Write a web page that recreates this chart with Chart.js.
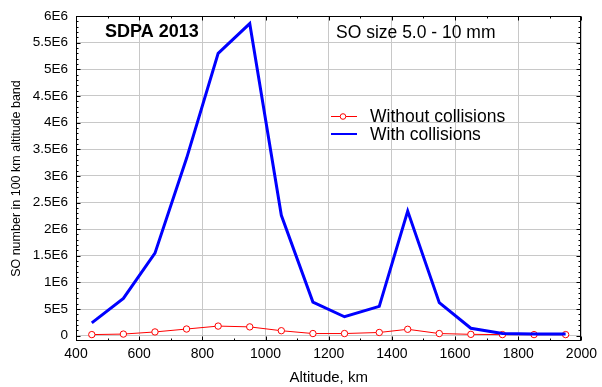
<!DOCTYPE html>
<html><head><meta charset="utf-8">
<script src="https://cdn.jsdelivr.net/npm/chart.js@4"></script>
<style>html,body{margin:0;padding:0;background:#fff}#w{width:602px;height:387px}</style>
</head><body><div id="w"><canvas id="c" width="602" height="387"></canvas></div>
<script>
const altitudes = [450,550,650,750,850,950,1050,1150,1250,1360,1450,1550,1650,1750,1850,1950];
const withoutCollisions = [0.02e6,0.03e6,0.07e6,0.125e6,0.18e6,0.165e6,0.093e6,0.04e6,0.04e6,0.06e6,0.12e6,0.04e6,0.025e6,0.02e6,0.02e6,0.02e6];
const withCollisions = [0.24e6,0.70e6,1.55e6,3.33e6,5.30e6,5.86e6,2.26e6,0.63e6,0.355e6,0.55e6,2.34e6,0.62e6,0.14e6,0.04e6,0.03e6,0.03e6];
const yTicks = [0,5e5,1e6,1.5e6,2e6,2.5e6,3e6,3.5e6,4e6,4.5e6,5e6,5.5e6,6e6];
const yTickLabels = ["0","5E5","1E6","1.5E6","2E6","2.5E6","3E6","3.5E6","4E6","4.5E6","5E6","5.5E6","6E6"];
const xTicks = [400,600,800,1000,1200,1400,1600,1800,2000];
const titleText = "SDPA 2013";
const subtitleText = "SO size 5.0 - 10 mm";
const seriesNames = ["Without collisions","With collisions"];

const FONT = "'Liberation Sans', Arial, sans-serif";
const annot = {
  id:'annot',
  afterDraw(chart){
    const ctx = chart.ctx, a = chart.chartArea;
    ctx.save();
    ctx.strokeStyle = '#000'; ctx.lineWidth = 1;
    const L = Math.round(a.left)+0.5, R = Math.round(a.right)-0.5, T = Math.round(a.top)+0.5, B = Math.round(a.bottom)-0.5;
    ctx.strokeRect(L, T, R-L, B-T);
    // minor ticks
    const ys = chart.scales.y, xs = chart.scales.x;
    for (let v = 0; v <= 6e6; v += 1e5) {
      const py = Math.round(ys.getPixelForValue(v)) + 0.5;
      const len = (v % 5e5 === 0) ? 4 : 2;
      ctx.beginPath(); ctx.moveTo(R, py); ctx.lineTo(R-len, py); ctx.stroke();
      ctx.beginPath(); ctx.moveTo(L, py); ctx.lineTo(L+len, py); ctx.stroke();
    }
    for (let v = 400; v <= 2000; v += 100) {
      const px = Math.round(xs.getPixelForValue(v)) + 0.5;
      const len = (v % 200 === 0) ? 4 : 2;
      ctx.beginPath(); ctx.moveTo(px, B); ctx.lineTo(px, B-len); ctx.stroke();
      ctx.beginPath(); ctx.moveTo(px, T); ctx.lineTo(px, T+len); ctx.stroke();
    }
    ctx.fillStyle = '#000';
    ctx.textBaseline = 'middle';
    ctx.font = "bold 18px " + FONT;
    ctx.fillText(titleText, 105, 32);
    ctx.font = "17.5px " + FONT;
    ctx.fillText(subtitleText, 336, 33);
    // legend
    ctx.lineWidth = 1; ctx.strokeStyle = '#ff0000';
    ctx.beginPath(); ctx.moveTo(331, 116.5); ctx.lineTo(357, 116.5); ctx.stroke();
    ctx.fillStyle = '#fff';
    ctx.beginPath(); ctx.arc(343, 116.5, 2.8, 0, Math.PI*2); ctx.fill(); ctx.stroke();
    ctx.strokeStyle = '#0000ff'; ctx.lineWidth = 2;
    ctx.beginPath(); ctx.moveTo(331, 134); ctx.lineTo(357, 134); ctx.stroke();
    ctx.fillStyle = '#000';
    ctx.font = "17.5px " + FONT;
    ctx.fillText(seriesNames[0], 370, 117);
    ctx.fillText(seriesNames[1], 370, 135);
    ctx.restore();
  }
};

new Chart(document.getElementById('c'), {
  type: 'line',
  data: {
    datasets: [
      { label: seriesNames[1], data: altitudes.map((x,i)=>({x, y: withCollisions[i]})),
        borderColor: '#0000ff', borderWidth: 3, pointRadius: 0, tension: 0, fill: false },
      { label: seriesNames[0], data: altitudes.map((x,i)=>({x, y: withoutCollisions[i]})),
        borderColor: '#ff0000', borderWidth: 1, pointRadius: 3.2, pointBorderWidth: 1,
        pointBackgroundColor: '#ffffff', pointBorderColor: '#ff0000', tension: 0, fill: false }
    ]
  },
  options: {
    responsive: false, animation: false,
    layout: { padding: { top: 14, right: 17, left: 0, bottom: 0 } },
    plugins: { legend: { display: false }, tooltip: { enabled: false } },
    scales: {
      x: {
        type: 'linear', min: 400, max: 2000,
        afterBuildTicks: s => { s.ticks = xTicks.map(v => ({ value: v })); },
        afterFit: s => { s.height = 46; },
        grid: { color: '#c8c8c8', drawTicks: false },
        border: { display: false },
        ticks: { color: '#000', font: { family: FONT, size: 14 }, padding: 5, maxRotation: 0, callback: v => String(v) },
        title: { display: true, text: 'Altitude, km', color: '#000', font: { family: FONT, size: 15 }, padding: { top: 0, bottom: 0 } }
      },
      y: {
        type: 'linear', min: -1e5, max: 6e6,
        afterBuildTicks: s => { s.ticks = yTicks.map(v => ({ value: v })); },
        afterFit: s => { s.width = 76; },
        grid: { color: '#c8c8c8', drawTicks: false },
        border: { display: false },
        ticks: { color: '#000', font: { family: FONT, size: 13.5 }, padding: 8,
          callback: v => { const i = yTicks.indexOf(v); return i >= 0 ? yTickLabels[i] : ''; } },
        title: { display: true, text: 'SO number in 100 km altitude band', color: '#000', font: { family: FONT, size: 12.5 }, padding: { top: 9, bottom: 0 } }
      }
    }
  },
  plugins: [annot]
});
</script></body></html>
